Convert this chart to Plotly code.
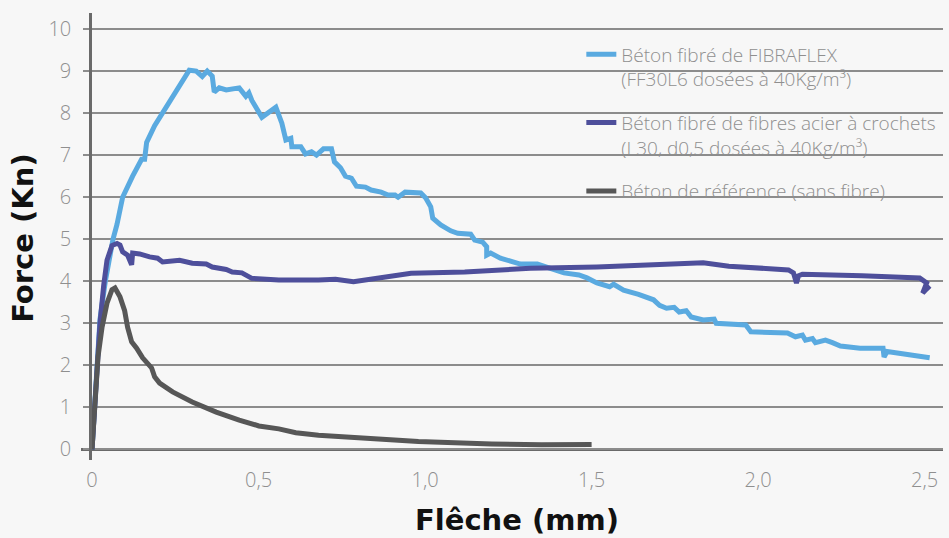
import plotly.graph_objects as go

# FIBRAFLEX (light blue)
fibraflex_x = [0, 0.012, 0.024, 0.04, 0.054, 0.063, 0.075, 0.092, 0.122, 0.149, 0.158, 0.164, 0.188,
               0.218, 0.248, 0.277, 0.292, 0.313, 0.331, 0.346, 0.361, 0.367, 0.382, 0.403, 0.442,
               0.462, 0.471, 0.48, 0.495, 0.51, 0.552, 0.57, 0.582, 0.597, 0.6, 0.627, 0.641, 0.659,
               0.674, 0.695, 0.719, 0.728, 0.746, 0.761, 0.779, 0.794, 0.821, 0.838, 0.868, 0.889,
               0.91, 0.919, 0.94, 0.987, 1.002, 1.017, 1.023, 1.047, 1.077, 1.098, 1.137, 1.149,
               1.173, 1.185, 1.185, 1.197, 1.226, 1.247, 1.268, 1.286, 1.337, 1.387, 1.417, 1.462,
               1.486, 1.516, 1.554, 1.566, 1.596, 1.641, 1.659, 1.686, 1.704, 1.725, 1.748, 1.763,
               1.784, 1.799, 1.835, 1.868, 1.874, 1.963, 1.978, 2.088, 2.112, 2.133, 2.142, 2.163,
               2.172, 2.202, 2.223, 2.247, 2.306, 2.375, 2.378, 2.387, 2.515]
fibraflex_y = [0, 1.6, 3.1, 4.0, 4.6, 5.0, 5.35, 6.0, 6.5, 6.9, 6.9, 7.3, 7.7,
               8.07, 8.43, 8.8, 9.02, 9.0, 8.87, 9.0, 8.88, 8.5, 8.6, 8.55, 8.6,
               8.4, 8.48, 8.3, 8.07, 7.9, 8.14, 7.76, 7.36, 7.4, 7.2, 7.2, 7.03, 7.08,
               7.0, 7.15, 7.15, 6.84, 6.7, 6.5, 6.45, 6.26, 6.24, 6.17, 6.12, 6.05,
               6.05, 6.0, 6.12, 6.1, 5.98, 5.77, 5.5, 5.34, 5.2, 5.14, 5.12, 4.98,
               4.93, 4.82, 4.62, 4.67, 4.55, 4.5, 4.47, 4.41, 4.41, 4.29, 4.2, 4.15,
               4.08, 3.96, 3.87, 3.93, 3.79, 3.69, 3.65, 3.56, 3.43, 3.36, 3.38, 3.27,
               3.3, 3.15, 3.08, 3.1, 3.0, 2.96, 2.8, 2.77, 2.68, 2.72, 2.6, 2.64,
               2.54, 2.6, 2.54, 2.46, 2.41, 2.41, 2.2, 2.33, 2.18]

# Steel hooked fibres (purple)
acier_x = [0, 0.012, 0.024, 0.035, 0.045, 0.06, 0.075, 0.084, 0.092, 0.107, 0.119, 0.122, 0.143,
           0.173, 0.197, 0.212, 0.263, 0.301, 0.343, 0.361, 0.403, 0.421, 0.45, 0.48, 0.561,
           0.68, 0.731, 0.785, 0.85, 0.958, 1.119, 1.316, 1.516, 1.665, 1.793, 1.835, 1.912,
           2.014, 2.091, 2.106, 2.115, 2.121, 2.133, 2.312, 2.461, 2.485, 2.506, 2.494, 2.506, 2.515]
acier_y = [0, 1.5, 3.0, 3.9, 4.5, 4.85, 4.9, 4.86, 4.7, 4.62, 4.39, 4.67, 4.65,
           4.58, 4.55, 4.46, 4.5, 4.43, 4.41, 4.34, 4.28, 4.22, 4.2, 4.07, 4.03,
           4.03, 4.05, 3.99, 4.07, 4.19, 4.22, 4.31, 4.34, 4.39, 4.44, 4.44, 4.36,
           4.31, 4.27, 4.2, 3.96, 4.13, 4.17, 4.13, 4.1, 4.08, 3.96, 3.72, 3.82, 3.89]

# Reference concrete (dark grey)
reference_x = [0, 0.009, 0.018, 0.03, 0.045, 0.06, 0.069, 0.084, 0.098, 0.107, 0.119, 0.134,
               0.152, 0.179, 0.188, 0.203, 0.242, 0.301, 0.373, 0.442, 0.501, 0.561, 0.612,
               0.68, 0.8, 0.98, 1.2, 1.35, 1.5]
reference_y = [0, 1.2, 2.2, 2.9, 3.48, 3.8, 3.84, 3.63, 3.3, 2.9, 2.56, 2.41,
               2.18, 1.94, 1.73, 1.58, 1.37, 1.13, 0.89, 0.7, 0.56, 0.49, 0.4,
               0.34, 0.27, 0.19, 0.13, 0.11, 0.12]

series_names = [
    "Béton fibré de FIBRAFLEX<br>(FF30L6 dosées à 40Kg/m³)",
    "Béton fibré de fibres acier à crochets<br>(L30, d0,5 dosées à 40Kg/m³)",
    "Béton de référence (sans fibre)",
]
series_colors = ["#5aaae0", "#4e4f9b", "#575757"]

x_tickvals = [0, 0.5, 1.0, 1.5, 2.0, 2.5]
x_ticktext = ["0", "0,5", "1,0", "1,5", "2,0", "2,5"]
y_tickvals = list(range(0, 11))

fig = go.Figure()
for i, (xs, ys) in enumerate([(fibraflex_x, fibraflex_y), (acier_x, acier_y), (reference_x, reference_y)]):
    fig.add_trace(go.Scatter(
        x=xs, y=ys, mode="lines", name=series_names[i], legendgroup=str(i),
        line=dict(color=series_colors[i], width=5, shape="linear"),
    ))

bg = "#f7f7f7"
tick_font = dict(family="Open Sans", size=20, color="#8f8f8f", weight=300)

fig.update_layout(
    width=949, height=538,
    margin=dict(l=92, r=6, t=13, b=78),
    paper_bgcolor=bg, plot_bgcolor=bg,
    showlegend=True,
    legend=dict(
        x=0.575, y=0.95, xanchor="left", yanchor="top",
        bgcolor="rgba(0,0,0,0)", borderwidth=0,
        font=dict(family="Open Sans", size=19, color="#8f8f8f", weight=300),
        tracegroupgap=16, valign="top", itemwidth=30,
    ),
    xaxis=dict(
        range=[0, 2.555], showgrid=False, zeroline=False, showline=False,
        tickvals=x_tickvals, ticktext=x_ticktext, ticks="",
        tickfont=tick_font, ticklabelstandoff=6,
    ),
    yaxis=dict(
        range=[-0.25, 10.38], tickvals=y_tickvals,
        showgrid=True, gridcolor="#8c8c8c", gridwidth=1.5,
        zeroline=False, showline=True, linecolor="#6a6a6a", linewidth=2.5,
        ticks="outside", ticklen=6, tickwidth=1.5, tickcolor="#8c8c8c",
        tickfont=tick_font, ticklabelstandoff=8,
    ),
    shapes=[dict(type="line", xref="paper", yref="y", x0=-11 / 851, x1=1, y0=0, y1=0,
                 line=dict(color="#6a6a6a", width=3), layer="below")],
    annotations=[
        dict(text="Flêche (mm)", xref="paper", yref="paper", x=0.4994, y=-0.134,
             showarrow=False, xanchor="center", yanchor="middle",
             font=dict(family="DejaVu Sans", size=29, color="#111111", weight="bold")),
        dict(text="Force (Kn)", xref="paper", yref="paper", x=-0.081, y=0.495,
             showarrow=False, xanchor="center", yanchor="middle", textangle=-90,
             font=dict(family="DejaVu Sans", size=29, color="#111111", weight="bold")),
    ],
)

fig.write_html(
    "out.html",
    config={"displayModeBar": False},
    post_script="document.body.style.margin='0';document.body.style.background='#f7f7f7';",
)
